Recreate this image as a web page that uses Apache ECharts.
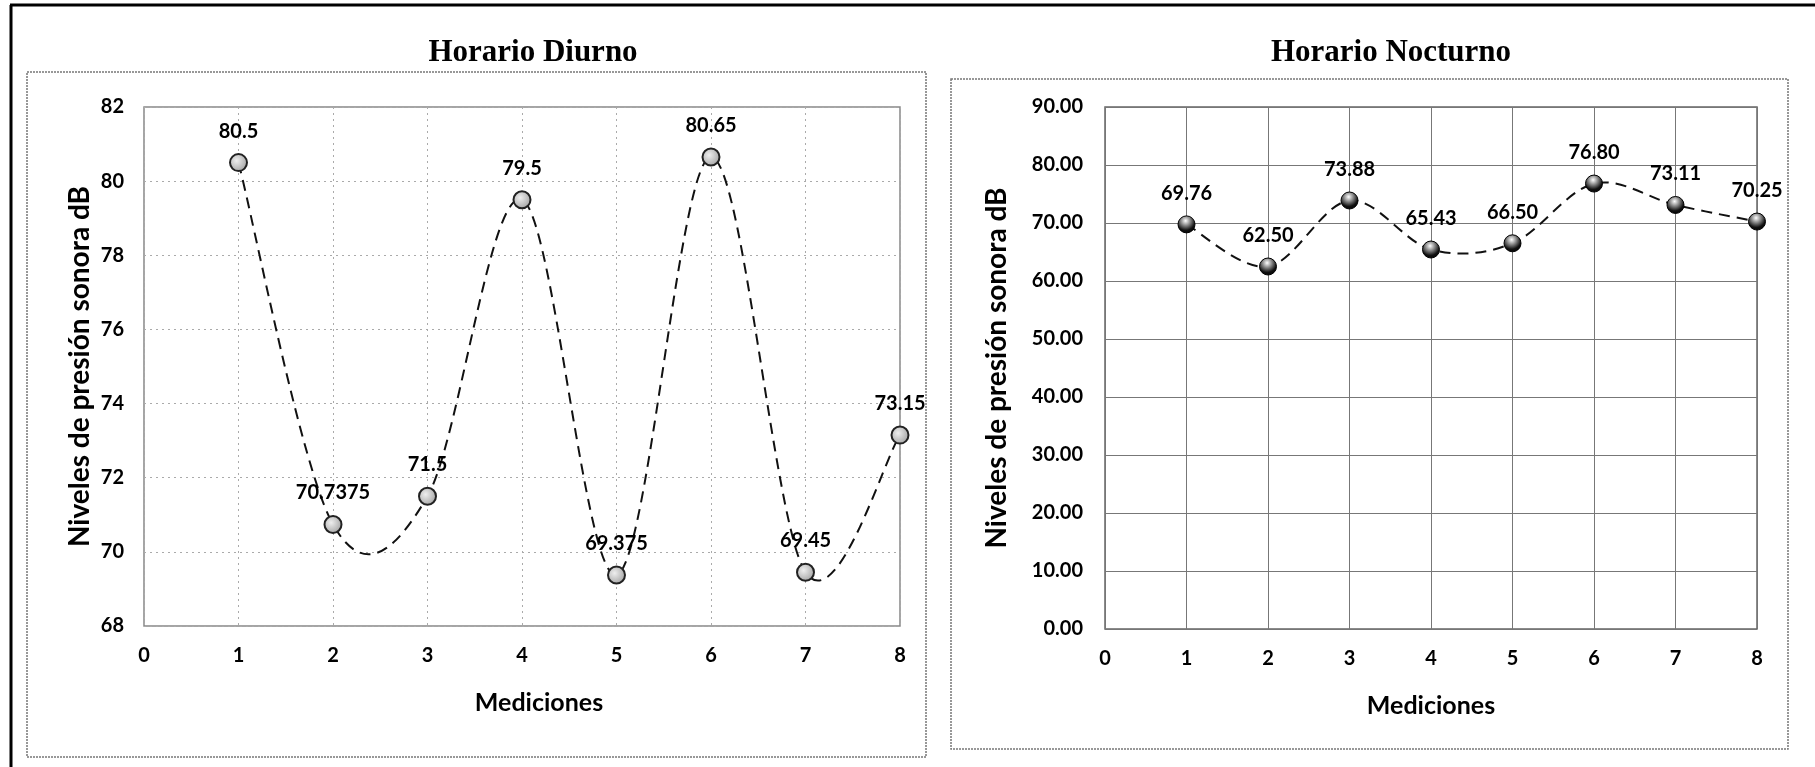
<!DOCTYPE html>
<html>
<head>
<meta charset="utf-8">
<script src="https://cdn.jsdelivr.net/npm/echarts@6/dist/echarts.min.js"></script>
<style>
html,body{margin:0;padding:0;background:#fff;}
#chart{width:1815px;height:767px;}
</style>
</head>
<body>
<div id="chart"></div>
<script>
// Data
const mediciones = [1, 2, 3, 4, 5, 6, 7, 8];
const diurnoValues = [80.5, 70.7375, 71.5, 79.5, 69.375, 80.65, 69.45, 73.15];
const nocturnoValues = [69.76, 62.50, 73.88, 65.43, 66.50, 76.80, 73.11, 70.25];
const diurnoLabels = ['80.5', '70.7375', '71.5', '79.5', '69.375', '80.65', '69.45', '73.15'];
const nocturnoLabels = ['69.76', '62.50', '73.88', '65.43', '66.50', '76.80', '73.11', '70.25'];
const titles = ['Horario Diurno', 'Horario Nocturno'];
const yAxisTitle = 'Niveles de presión sonora dB';
const xAxisTitle = 'Mediciones';

const FONT = 'Lato, "Open Sans", sans-serif';
const chart = echarts.init(document.getElementById('chart'), null, {renderer: 'canvas'});

const diurnoData = mediciones.map((m, i) => [m, diurnoValues[i]]);
const nocturnoData = mediciones.map((m, i) => [m, nocturnoValues[i]]);

// Excel-like smoothed line (Catmull-Rom style bezier) through pixel coords from the axes
function splineRenderer(data) {
  return function (params, api) {
    if (params.dataIndex !== 0) return null;
    const pts = data.map(d => api.coord(d));
    const n = pts.length;
    let d = 'M' + pts[0][0] + ' ' + pts[0][1];
    for (let i = 0; i < n - 1; i++) {
      const p0 = pts[Math.max(i - 1, 0)], p1 = pts[i], p2 = pts[i + 1], p3 = pts[Math.min(i + 2, n - 1)];
      const c1 = [p1[0] + (p2[0] - p0[0]) / 6, p1[1] + (p2[1] - p0[1]) / 6];
      const c2 = [p2[0] - (p3[0] - p1[0]) / 6, p2[1] - (p3[1] - p1[1]) / 6];
      d += ' C' + c1[0] + ' ' + c1[1] + ' ' + c2[0] + ' ' + c2[1] + ' ' + p2[0] + ' ' + p2[1];
    }
    return {
      type: 'path',
      shape: {pathData: d},
      style: {fill: 'none', stroke: '#111', lineWidth: 2, lineDash: [11, 7]},
      silent: true
    };
  };
}

const tickLabel = {color: '#000', fontFamily: FONT, fontWeight: 'bold', fontSize: 20};
const nameStyleX = {color: '#000', fontFamily: FONT, fontWeight: 'bold', fontSize: 25};
const nameStyleY = {color: '#000', fontFamily: FONT, fontWeight: 'bold', fontSize: 28};
const titleStyle = {fontFamily: '"Liberation Serif", "DejaVu Serif", serif', fontWeight: 'bold', fontSize: 31, color: '#000'};

const option = {
  backgroundColor: '#fff',
  animation: false,
  title: [
    {text: titles[0], left: 528, top: 32, textAlign: 'center', textStyle: titleStyle},
    {text: titles[1], left: 1386, top: 32, textAlign: 'center', textStyle: titleStyle}
  ],
  graphic: [
    {type: 'line', shape: {x1: 10, y1: 5, x2: 1815, y2: 5}, style: {stroke: '#000', lineWidth: 3}},
    {type: 'line', shape: {x1: 11, y1: 5, x2: 11, y2: 767}, style: {stroke: '#000', lineWidth: 3}},
    {type: 'rect', shape: {x: 27, y: 72, width: 899, height: 685}, style: {fill: null, stroke: '#777', lineWidth: 1.5, lineDash: [2, 1]}, z: -1},
    {type: 'rect', shape: {x: 951, y: 79, width: 837, height: 670}, style: {fill: null, stroke: '#777', lineWidth: 1.5, lineDash: [2, 1]}, z: -1}
  ],
  grid: [
    {left: 144, top: 107, width: 756, height: 519, show: true, borderColor: '#888', borderWidth: 1.5, backgroundColor: 'transparent'},
    {left: 1105, top: 107, width: 652, height: 522, show: true, borderColor: '#666', borderWidth: 1.5, backgroundColor: 'transparent'}
  ],
  xAxis: [
    {type: 'value', gridIndex: 0, min: 0, max: 8, interval: 1,
     name: xAxisTitle, nameLocation: 'middle', nameGap: 64, nameTextStyle: Object.assign({padding: [0, 0, 0, 34]}, nameStyleX),
     axisLine: {show: false}, axisTick: {show: false},
     axisLabel: Object.assign({margin: 20}, tickLabel),
     splitLine: {show: true, lineStyle: {color: '#aaa', type: [2, 4], width: 1}}},
    {type: 'value', gridIndex: 1, min: 0, max: 8, interval: 1,
     name: xAxisTitle, nameLocation: 'middle', nameGap: 64, nameTextStyle: Object.assign({padding: [0, 0, 0, 0]}, nameStyleX),
     axisLine: {show: false}, axisTick: {show: false},
     axisLabel: Object.assign({margin: 20}, tickLabel),
     splitLine: {show: true, lineStyle: {color: '#777', type: 'solid', width: 1}}}
  ],
  yAxis: [
    {type: 'value', gridIndex: 0, min: 68, max: 82, interval: 2,
     name: yAxisTitle, nameLocation: 'middle', nameGap: 50, nameRotate: 90, nameTextStyle: nameStyleY,
     axisLine: {show: false}, axisTick: {show: false},
     axisLabel: Object.assign({margin: 20}, tickLabel),
     splitLine: {show: true, lineStyle: {color: '#aaa', type: [2, 4], width: 1}}},
    {type: 'value', gridIndex: 1, min: 0, max: 90, interval: 10,
     name: yAxisTitle, nameLocation: 'middle', nameGap: 94, nameRotate: 90, nameTextStyle: nameStyleY,
     axisLine: {show: false}, axisTick: {show: false},
     axisLabel: Object.assign({margin: 22, formatter: v => v.toFixed(2)}, tickLabel),
     splitLine: {show: true, lineStyle: {color: '#777', type: 'solid', width: 1}}}
  ],
  series: [
    {type: 'custom', xAxisIndex: 0, yAxisIndex: 0, data: diurnoData, renderItem: splineRenderer(diurnoData), z: 4, silent: true},
    {type: 'custom', xAxisIndex: 1, yAxisIndex: 1, data: nocturnoData, renderItem: splineRenderer(nocturnoData), z: 4, silent: true},
    {type: 'line', xAxisIndex: 0, yAxisIndex: 0, data: diurnoData,
     symbol: 'circle', symbolSize: 17,
     lineStyle: {opacity: 0},
     itemStyle: {color: {type: 'radial', x: 0.4, y: 0.4, r: 0.7, colorStops: [{offset: 0, color: '#eee'}, {offset: 1, color: '#999'}]},
                 borderColor: '#222', borderWidth: 2},
     label: {show: true, position: 'top', distance: 12, color: '#000', fontFamily: FONT, fontWeight: 'bold', fontSize: 20,
             formatter: p => diurnoLabels[p.dataIndex]},
     z: 5},
    {type: 'line', xAxisIndex: 1, yAxisIndex: 1, data: nocturnoData,
     symbol: 'circle', symbolSize: 17,
     lineStyle: {opacity: 0},
     itemStyle: {color: {type: 'radial', x: 0.45, y: 0.3, r: 0.75, colorStops: [{offset: 0, color: '#fff'}, {offset: 0.35, color: '#888'}, {offset: 0.7, color: '#111'}, {offset: 1, color: '#000'}]},
                 borderColor: '#000', borderWidth: 1},
     label: {show: true, position: 'top', distance: 12, color: '#000', fontFamily: FONT, fontWeight: 'bold', fontSize: 20,
             formatter: p => nocturnoLabels[p.dataIndex]},
     z: 5}
  ]
};
chart.setOption(option);
</script>
</body>
</html>
